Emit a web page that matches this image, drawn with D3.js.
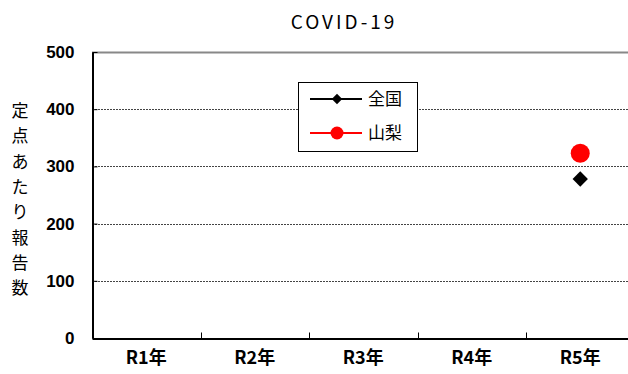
<!DOCTYPE html>
<html>
<head>
<meta charset="utf-8">
<script src="https://cdn.jsdelivr.net/npm/d3@7"></script>
<style>
  body { margin: 0; background: #fff; }
  svg { display: block; }
</style>
</head>
<body>
<div class="content"></div>
<script>
//--> Data
const years = ["R1年", "R2年", "R3年", "R4年", "R5年"];
const zenkoku = [null, null, null, null, 278];
const yamanashi = [null, null, null, null, 323];
const yTicks = [0, 100, 200, 300, 400, 500];
const yTitle = "定点あたり報告数";

//--> Set up main elements
const width = 628;
const height = 374;
const plot = { left: 92, top: 52, bottom: 338, step: 108.5 };

const jp = "'Noto Sans CJK JP', sans-serif";
const num = "'Liberation Sans', Arial, sans-serif";

const svg = d3
  .select(".content")
  .append("svg")
  .attr("width", width)
  .attr("height", height);

const x = d3
  .scaleBand()
  .domain(years)
  .range([plot.left, plot.left + plot.step * years.length]);

const y = d3.scaleLinear().domain([0, 500]).range([plot.bottom, plot.top]);

//--> Gridlines
svg
  .append("g")
  .selectAll("line")
  .data(yTicks.filter(d => d > 0))
  .join("line")
  .attr("x1", plot.left)
  .attr("x2", x.range()[1])
  .attr("y1", d => Math.round(y(d)) + 0.5)
  .attr("y2", d => Math.round(y(d)) + 0.5)
  .attr("stroke", d => (d === 500 ? "#888" : "#444"))
  .attr("stroke-width", d => (d === 500 ? 2 : 1))
  .attr("stroke-dasharray", d => (d === 500 ? null : "2,1"));

//--> Y axis
const yAxis = svg
  .append("g")
  .attr("transform", `translate(${plot.left + 0.5},0)`)
  .call(
    d3.axisLeft(y).tickValues(yTicks).tickSize(-5).tickPadding(18).tickSizeOuter(0)
  );
yAxis.select(".domain").attr("stroke", "#000").attr("stroke-width", 2);
yAxis.selectAll(".tick line").attr("stroke", "#000");
yAxis
  .selectAll("text")
  .attr("font-family", num)
  .attr("font-weight", "bold")
  .attr("font-size", 17)
  .attr("fill", "#000");

//--> X axis
const xAxis = svg
  .append("g")
  .attr("transform", `translate(0,${plot.bottom + 0.5})`)
  .call(d3.axisBottom(x).tickSize(0).tickPadding(13));
xAxis.select(".domain").attr("stroke", "#000").attr("stroke-width", 2);
xAxis
  .selectAll("text")
  .attr("font-family", jp)
  .attr("font-weight", "bold")
  .attr("font-size", 18)
  .attr("fill", "#000");

xAxis
  .selectAll(".boundary")
  .data(years.slice(1))
  .join("line")
  .attr("class", "boundary")
  .attr("x1", d => Math.round(x(d)) + 0.5)
  .attr("x2", d => Math.round(x(d)) + 0.5)
  .attr("y1", 0)
  .attr("y2", -6)
  .attr("stroke", "#000");

//--> Title
svg
  .append("text")
  .attr("x", 344)
  .attr("y", 29)
  .attr("text-anchor", "middle")
  .attr("font-family", jp)
  .attr("font-size", 19)
  .attr("letter-spacing", 3)
  .text("COVID-19");

//--> Y axis title, one character per line
svg
  .append("g")
  .selectAll("text")
  .data(Array.from(yTitle))
  .join("text")
  .attr("x", 20)
  .attr("y", (_, i) => 117 + i * 25.3)
  .attr("text-anchor", "middle")
  .attr("font-family", jp)
  .attr("font-size", 17)
  .text(d => d);

//--> Points
const cx = d => x(d) + x.bandwidth() / 2;
const diamond = d3.symbol().type(d3.symbolDiamond2);

svg
  .append("g")
  .selectAll("path")
  .data(years.map((d, i) => [d, zenkoku[i]]).filter(d => d[1] != null))
  .join("path")
  .attr("d", diamond.size(150))
  .attr("transform", d => `translate(${cx(d[0])},${y(d[1])})`)
  .attr("fill", "#000");

svg
  .append("g")
  .selectAll("circle")
  .data(years.map((d, i) => [d, yamanashi[i]]).filter(d => d[1] != null))
  .join("circle")
  .attr("cx", d => cx(d[0]))
  .attr("cy", d => y(d[1]))
  .attr("r", 9.5)
  .attr("fill", "#f00");

//--> Legend
const legend = svg.append("g").attr("transform", "translate(298,82)");
legend
  .append("rect")
  .attr("x", 0.5)
  .attr("y", 0.5)
  .attr("width", 119)
  .attr("height", 69)
  .attr("fill", "#fff")
  .attr("stroke", "#000");

const legendItems = [
  { name: "全国", color: "#000", shape: "diamond" },
  { name: "山梨", color: "#f00", shape: "circle" },
];

const item = legend
  .selectAll(".item")
  .data(legendItems)
  .join("g")
  .attr("class", "item")
  .attr("transform", (_, i) => `translate(0,${17 + i * 34})`);

item
  .append("line")
  .attr("x1", 12)
  .attr("x2", 64)
  .attr("stroke", d => d.color)
  .attr("stroke-width", 2);

item
  .filter(d => d.shape === "diamond")
  .append("path")
  .attr("d", diamond.size(70))
  .attr("transform", "translate(39,0)")
  .attr("fill", "#000");

item
  .filter(d => d.shape === "circle")
  .append("circle")
  .attr("cx", 39)
  .attr("r", 6.5)
  .attr("fill", "#f00");

item
  .append("text")
  .attr("x", 70)
  .attr("dy", "0.35em")
  .attr("font-family", jp)
  .attr("font-size", 17)
  .text(d => d.name);
</script>
</body>
</html>
